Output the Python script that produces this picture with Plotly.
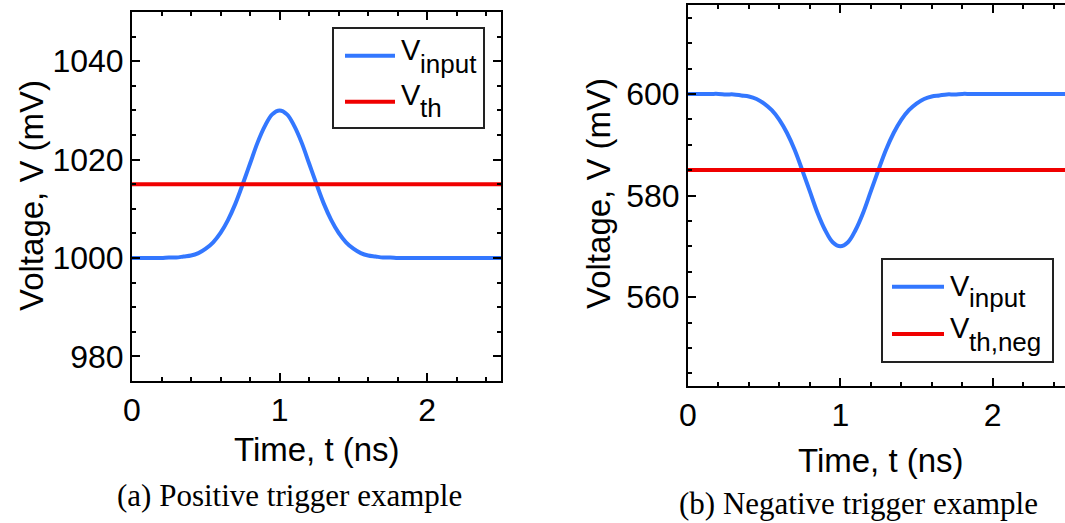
import plotly.graph_objects as go

# ---- data ----
t = [0.00, 0.05, 0.10, 0.15, 0.20, 0.25, 0.30, 0.35, 0.40, 0.45,
     0.50, 0.55, 0.60, 0.65, 0.70, 0.75, 0.80, 0.85, 0.90, 0.95,
     1.00, 1.05, 1.10, 1.15, 1.20, 1.25, 1.30, 1.35, 1.40, 1.45,
     1.50, 1.55, 1.60, 1.65, 1.70, 1.75, 1.80, 1.85, 1.90, 1.95,
     2.00, 2.05, 2.10, 2.15, 2.20, 2.25, 2.30, 2.35, 2.40, 2.45, 2.50]

v_input_pos = [1000.0, 1000.0, 1000.0, 1000.0, 1000.0, 1000.1, 1000.1, 1000.3, 1000.5, 1001.0,
               1001.9, 1003.2, 1005.1, 1007.7, 1011.0, 1015.0, 1019.2, 1023.4, 1026.8, 1029.2,
               1030.0, 1029.2, 1026.8, 1023.4, 1019.2, 1015.0, 1011.0, 1007.7, 1005.1, 1003.2,
               1001.9, 1001.0, 1000.5, 1000.3, 1000.1, 1000.1, 1000.0, 1000.0, 1000.0, 1000.0,
               1000.0, 1000.0, 1000.0, 1000.0, 1000.0, 1000.0, 1000.0, 1000.0, 1000.0, 1000.0, 1000.0]

v_input_neg = [600.0, 600.0, 600.0, 600.0, 600.0, 599.9, 599.9, 599.7, 599.5, 599.0,
               598.1, 596.8, 594.9, 592.3, 589.0, 585.0, 580.8, 576.6, 573.2, 570.8,
               570.0, 570.8, 573.2, 576.6, 580.8, 585.0, 589.0, 592.3, 594.9, 596.8,
               598.1, 599.0, 599.5, 599.7, 599.9, 599.9, 600.0, 600.0, 600.0, 600.0,
               600.0, 600.0, 600.0, 600.0, 600.0, 600.0, 600.0, 600.0, 600.0, 600.0, 600.0]

th_t = [0.0, 2.5]
v_th = [1015.0, 1015.0]
v_th_neg = [585.0, 585.0]

x_ticks = [0, 1, 2]
y_ticks_pos = [980, 1000, 1020, 1040]
y_ticks_neg = [560, 580, 600]

legend_a = [("V", "input"), ("V", "th")]
legend_b = [("V", "input"), ("V", "th,neg")]

BLUE = "#3377FF"
RED = "#F00000"
SANS = "Liberation Sans, Arial, sans-serif"
SERIF = "Liberation Serif, Times New Roman, serif"

fig = go.Figure()

fig.add_trace(go.Scatter(x=t, y=v_input_pos, mode="lines", line=dict(color=BLUE, width=4, shape="spline"),
                         name="V input", xaxis="x", yaxis="y"))
fig.add_trace(go.Scatter(x=th_t, y=v_th, mode="lines", line=dict(color=RED, width=4),
                         name="V th", xaxis="x", yaxis="y"))
fig.add_trace(go.Scatter(x=t, y=v_input_neg, mode="lines", line=dict(color=BLUE, width=4, shape="spline"),
                         name="V input", xaxis="x2", yaxis="y2"))
fig.add_trace(go.Scatter(x=th_t, y=v_th_neg, mode="lines", line=dict(color=RED, width=4),
                         name="V th,neg", xaxis="x2", yaxis="y2"))

W, H = 1065, 523


def px_x(p):
    return p / W


def px_y(p):
    return 1 - p / H


axis_common = dict(showline=True, linecolor="black", linewidth=2, mirror="allticks",
                   ticks="inside", ticklen=8, tickwidth=2, tickcolor="black",
                   showgrid=False, zeroline=False, automargin=False,
                   tickfont=dict(family=SANS, size=32, color="black"))
minor_common = dict(ticks="inside", ticklen=4, tickwidth=2, tickcolor="black")

fig.update_layout(
    width=W, height=H,
    margin=dict(l=0, r=0, t=0, b=0),
    paper_bgcolor="white", plot_bgcolor="white",
    showlegend=False,
    xaxis=dict(domain=[px_x(132), px_x(501)], anchor="y", range=[0, 2.5],
               tickvals=x_ticks, minor=dict(dtick=0.2, **minor_common), **axis_common),
    yaxis=dict(domain=[px_y(381), px_y(12)], anchor="x", range=[975, 1050],
               tickvals=y_ticks_pos, minor=dict(dtick=5, **minor_common), **axis_common),
    xaxis2=dict(domain=[px_x(688), 1.0], anchor="y2", range=[0, 2.475],
                tickvals=x_ticks, minor=dict(dtick=0.2, **minor_common), **axis_common),
    yaxis2=dict(domain=[px_y(386), px_y(5)], anchor="x2", range=[542.5, 617.5],
                tickvals=y_ticks_neg, minor=dict(dtick=5, **minor_common),
                **{**axis_common, "mirror": False}),
)

# axis titles
titles = [
    dict(text="Voltage, V (mV)", x=px_x(31), y=px_y(196), textangle=-90),
    dict(text="Voltage, V (mV)", x=px_x(598), y=px_y(194), textangle=-90),
    dict(text="Time, t (ns)", x=px_x(317), y=px_y(449), textangle=0),
    dict(text="Time, t (ns)", x=px_x(881), y=px_y(460), textangle=0),
]
for a in titles:
    fig.add_annotation(xref="paper", yref="paper", showarrow=False,
                       xanchor="center", yanchor="middle",
                       font=dict(family=SANS, size=33, color="black"), **a)

# captions
captions = [
    dict(text="(a) Positive trigger example", x=px_x(289), y=px_y(495)),
    dict(text="(b) Negative trigger example", x=px_x(858), y=px_y(503)),
]
for c in captions:
    fig.add_annotation(xref="paper", yref="paper", showarrow=False,
                       xanchor="center", yanchor="middle",
                       font=dict(family=SERIF, size=31, color="black"), **c)


# hand-drawn legends (box, sample lines, texts)
def add_legend(box, line_x, rows, entries):
    x0, y0, x1, y1 = box
    fig.add_shape(type="rect", xref="paper", yref="paper",
                  x0=px_x(x0), x1=px_x(x1), y0=px_y(y1), y1=px_y(y0),
                  line=dict(color="#222222", width=2), fillcolor="white", layer="above")
    for (ly, vy, sy), (main, sub), col in zip(rows, entries, [BLUE, RED]):
        fig.add_shape(type="line", xref="paper", yref="paper",
                      x0=px_x(line_x[0]), x1=px_x(line_x[1]), y0=px_y(ly), y1=px_y(ly),
                      line=dict(color=col, width=4), layer="above")
        fig.add_annotation(xref="paper", yref="paper", showarrow=False,
                           x=px_x(line_x[1] + 4), y=px_y(vy), xanchor="left", yanchor="middle",
                           text=main, font=dict(family=SANS, size=29, color="black"))
        fig.add_annotation(xref="paper", yref="paper", showarrow=False,
                           x=px_x(line_x[1] + 23), y=px_y(sy), xanchor="left", yanchor="middle",
                           text=sub, font=dict(family=SANS, size=26, color="black"))


add_legend((333, 28, 484, 128), (345, 395), [(55.7, 50, 64), (101.7, 95, 108)], legend_a)
add_legend((882, 259, 1053, 362), (892, 944), [(286.7, 286, 298), (334, 328, 342)], legend_b)

fig.write_html("out.html")
